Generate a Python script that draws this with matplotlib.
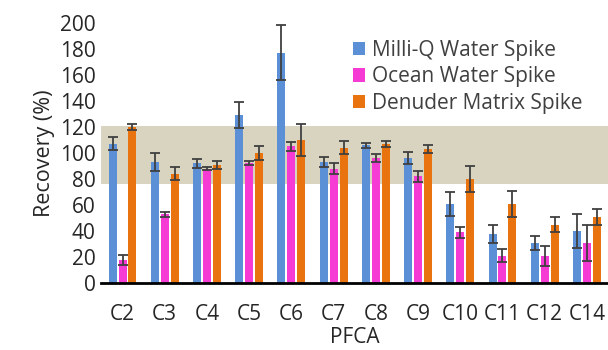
import numpy as np
import matplotlib
matplotlib.use("Agg")
import matplotlib.pyplot as plt

categories = ["C2", "C3", "C4", "C5", "C6", "C7", "C8", "C9", "C10", "C11", "C12", "C14"]
milliq = [107, 93, 92, 129, 177, 93, 106, 96, 61, 38, 31, 40]
milliq_err = [5, 7, 3.5, 10, 21, 4, 2, 4.5, 9, 7, 5.5, 13]
ocean = [18, 53, 88, 92, 105, 88, 96, 82, 39, 21, 21, 31]
ocean_err = [4, 2, 1, 1.5, 3.5, 4, 3, 4, 4, 5, 8, 14]
denuder = [120, 84, 91, 100, 110, 104, 107, 103, 80, 61, 45, 51]
denuder_err = [2, 5, 3, 5, 12.5, 5, 2.5, 3, 10, 10, 5.5, 6]
series_names = ["Milli-Q Water Spike", "Ocean Water Spike", "Denuder Matrix Spike"]
band = (76, 121)

plt.rcParams['font.family'] = ['Open Sans', 'DejaVu Sans']

fig = plt.figure(figsize=(6.08, 3.5), dpi=100)
ax = fig.add_axes([101/608, 1-283.3/350, 1-101/608, (283.3-22.7)/350])

colors = ["#5B8FD6", "#F53BD4", "#E8730F"]
x = np.arange(len(categories))
w = 0.19
off = 0.235
ax.axhspan(band[0], band[1], color="#D9D4C0", zorder=0, lw=0)
for i, (vals, errs) in enumerate([(milliq, milliq_err), (ocean, ocean_err), (denuder, denuder_err)]):
    ax.bar(x + (i - 1) * off, vals, w, color=colors[i], label=series_names[i], zorder=2,
           yerr=errs, error_kw=dict(ecolor="#404040", elinewidth=1.3, capsize=3.5, capthick=1.3, zorder=3))

ax.set_ylim(0, 200)
ax.set_xlim(-0.51, 11.5)
ax.set_yticks(range(0, 201, 20))
ax.set_xticks(x)
ax.set_xticklabels(categories)
ax.tick_params(axis='both', length=0, labelsize=15, colors="#262626")
ax.tick_params(axis='x', pad=15)
ax.tick_params(axis='y', pad=4)
for s in ["top", "right", "left"]:
    ax.spines[s].set_visible(False)
ax.spines["bottom"].set_linewidth(2)
ax.spines["bottom"].set_color("black")
ax.set_ylabel("Recovery (%)", fontsize=15.5, color="#262626", labelpad=3)
ax.set_xlabel("PFCA", fontsize=15, color="#262626", labelpad=1)

leg = ax.legend(loc="upper left", bbox_to_anchor=(0.46, 1.005), frameon=False, fontsize=15,
                handlelength=0.6, handleheight=0.6, handletextpad=0.3, labelspacing=0.25,
                labelcolor="#404040")

fig.savefig("out.png", dpi=100)
